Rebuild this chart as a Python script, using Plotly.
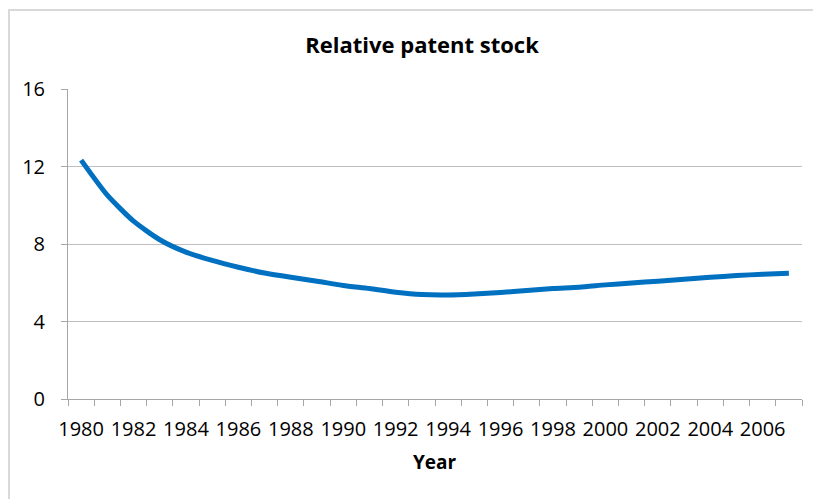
import plotly.graph_objects as go

years = list(range(1980, 2008))
patent_stock = [12.33, 10.52, 9.18, 8.22, 7.58, 7.15, 6.80, 6.50, 6.28, 6.08,
                5.86, 5.70, 5.51, 5.39, 5.37, 5.42, 5.50, 5.60, 5.70, 5.77,
                5.89, 5.99, 6.08, 6.18, 6.28, 6.37, 6.44, 6.49]
y_ticks = [0, 4, 8, 12, 16]
x_tick_years = [y for y in years if y % 2 == 0]

# page has an 8px body margin; work in page pixels and shift
OFF = 8
W, H = 821 - OFF, 499 - OFF
L, R, T, B = 68 - OFF, 821 - 802, 89 - OFF, 499 - 399
pw, ph = W - L - R, H - T - B

def px_x(p):
    return (p - OFF - L) / pw

def px_y(p):
    return (H - B - (p - OFF)) / ph

fig = go.Figure()
fig.add_trace(go.Scatter(
    x=years, y=patent_stock, mode="lines",
    line=dict(color="#0070C0", width=5, shape="spline", smoothing=0.6),
    showlegend=False, hoverinfo="x+y",
))

font_family = "Open Sans, Noto Sans, sans-serif"

fig.update_layout(
    width=W, height=H,
    margin=dict(l=L, r=R, t=T, b=B, pad=0),
    paper_bgcolor="white", plot_bgcolor="white",
    title=dict(text="<b>Relative patent stock</b>", x=(422 - OFF) / W, xref="container", xanchor="center",
               y=1 - (45 - OFF) / H, yref="container", yanchor="middle",
               font=dict(family=font_family, size=22, color="#000000")),
    font=dict(family=font_family, size=20, color="#000000"),
    shapes=[dict(type="rect", xref="paper", yref="paper",
                 x0=px_x(9), x1=px_x(840), y0=px_y(520), y1=px_y(10),
                 line=dict(color="#d9d9d9", width=2), fillcolor="rgba(0,0,0,0)", layer="below")],
    annotations=[dict(text="<b>Year</b>", xref="paper", yref="paper", x=0.5, y=px_y(462),
                      xanchor="center", yanchor="middle", showarrow=False,
                      font=dict(family=font_family, size=19, color="#000000"))],
)

fig.update_xaxes(
    range=[years[0] - 0.5, years[-1] + 0.5],
    tickmode="array", tickvals=x_tick_years, ticktext=[str(v) for v in x_tick_years],
    ticks="", ticklabelstandoff=12,
    showgrid=False, zeroline=False,
    showline=True, linecolor="#a6a6a6", linewidth=1,
    tickfont=dict(family=font_family, size=20, color="#000000"),
    minor=dict(tickmode="array", tickvals=[v - 0.5 for v in years] + [years[-1] + 0.5],
               ticks="outside", ticklen=6, tickcolor="#a6a6a6", tickwidth=1, showgrid=False),
    fixedrange=True,
)
fig.update_yaxes(
    range=[0, 16], tickmode="array", tickvals=y_ticks,
    ticks="outside", ticklen=6, tickcolor="#a6a6a6", ticklabelstandoff=12,
    showgrid=True, gridcolor="#bfbfbf", gridwidth=1, zeroline=False,
    showline=True, linecolor="#a6a6a6", linewidth=1,
    tickfont=dict(family=font_family, size=20, color="#000000"),
    fixedrange=True,
)

fig.write_html("out.html")
